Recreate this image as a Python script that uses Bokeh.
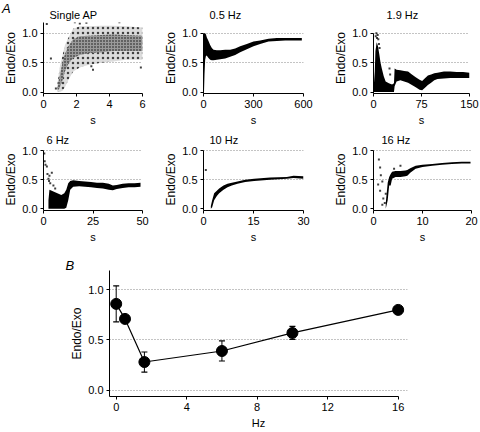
from bokeh.plotting import figure
from bokeh.models import Range1d, FixedTicker, PrintfTickFormatter, Title, Div
from bokeh.layouts import row, column
from bokeh.embed import file_html
from bokeh.resources import INLINE

FONT = "Liberation Sans"

# ---------------- data ----------------
# Single AP: scatter cloud described by an outer and a dense core envelope
ap_t = [0.85, 1.0, 1.15, 1.3, 1.5, 1.8, 2.2, 2.7, 3.5, 4.2, 5.0, 6.0]
ap_outer_lo = [0.0, 0.0, 0.02, 0.08, 0.2, 0.35, 0.42, 0.46, 0.5, 0.52, 0.55, 0.55]
ap_outer_hi = [0.15, 0.45, 0.62, 0.8, 0.92, 1.08, 1.12, 1.12, 1.13, 1.13, 1.12, 1.1]
ap_core_lo = [0.02, 0.08, 0.2, 0.35, 0.48, 0.58, 0.63, 0.66, 0.68, 0.7, 0.7, 0.7]
ap_core_hi = [0.08, 0.3, 0.5, 0.65, 0.78, 0.9, 0.95, 0.96, 0.97, 0.98, 0.97, 0.96]
ap_pts_t = [0.2, 0.45, 0.75, 2.9, 3.0, 1.9, 2.2, 2.6, 4.6, 5.9]
ap_pts_v = [1.16, 0.57, 0.06, 0.44, 0.38, 1.19, 1.17, 1.18, 1.19, 0.42]

# 0.5 Hz
hz05_t = [0, 3, 6, 10, 15, 20, 30, 40, 50, 60, 80, 100, 130, 160, 190, 220, 260, 300, 340, 390, 440, 490, 540, 590]
hz05_lo = [0, 0, 0.3, 0.55, 0.62, 0.62, 0.58, 0.55, 0.54, 0.54, 0.55, 0.56, 0.57, 0.6, 0.63, 0.68, 0.73, 0.78, 0.82, 0.86, 0.87, 0.88, 0.88, 0.88]
hz05_hi = [0.5, 1.0, 1.0, 1.0, 0.98, 0.93, 0.87, 0.8, 0.75, 0.72, 0.71, 0.71, 0.72, 0.72, 0.74, 0.78, 0.82, 0.86, 0.88, 0.91, 0.92, 0.92, 0.92, 0.92]

# 1.9 Hz
hz19_t = [0, 2, 3, 5, 7, 9, 11, 13, 16, 19, 24, 29, 32, 33, 36, 42, 48, 54, 60, 66, 72, 76, 80, 85, 90, 95, 100, 110, 120, 130, 140, 150]
hz19_lo = [0, 0, 0, 0, 0, 0, 0, 0, 0, 0, 0, 0, 0, 0.1, 0.18, 0.2, 0.18, 0.16, 0.12, 0.08, 0.04, 0.03, 0.07, 0.12, 0.16, 0.2, 0.22, 0.23, 0.24, 0.24, 0.24, 0.24]
hz19_hi = [0.03, 0.35, 0.7, 0.85, 0.78, 0.65, 0.5, 0.4, 0.27, 0.18, 0.15, 0.13, 0.15, 0.4, 0.38, 0.37, 0.36, 0.35, 0.3, 0.25, 0.21, 0.19, 0.23, 0.28, 0.3, 0.32, 0.33, 0.35, 0.35, 0.34, 0.34, 0.33]
hz19_pts_t = [3.5, 4.5, 5.5, 6.5, 7.5, 8.5, 9.5, 25, 26]
hz19_pts_v = [0.95, 1.0, 0.92, 0.97, 0.9, 0.82, 0.75, 0.4, 0.3]

# 6 Hz
hz6_t = [2.5, 3, 5, 7, 9, 10.5, 11.5, 12.5, 13.5, 15, 18, 21, 24, 27, 30, 33, 35, 37, 40, 43, 46, 49]
hz6_lo = [0, 0, 0, 0, 0, 0, 0.02, 0.15, 0.33, 0.38, 0.39, 0.38, 0.37, 0.36, 0.35, 0.33, 0.32, 0.34, 0.36, 0.37, 0.37, 0.38]
hz6_hi = [0.15, 0.33, 0.3, 0.27, 0.24, 0.27, 0.33, 0.44, 0.48, 0.49, 0.48, 0.47, 0.46, 0.45, 0.45, 0.43, 0.4, 0.41, 0.43, 0.44, 0.44, 0.45]
hz6_pts_t = [0.4, 0.6, 1.0, 1.7, 2.0, 2.5, 2.8, 3.0, 3.4, 4.2, 5.0, 5.9]
hz6_pts_v = [0.95, 0.82, 0.76, 0.73, 0.6, 0.52, 0.48, 0.57, 0.44, 0.62, 0.4, 0.35]

# 10 Hz
hz10_t = [2.2, 2.6, 3.2, 4, 4.7, 6, 7.2, 8.5, 10.2, 12.5, 15.2, 20, 25, 27, 30]
hz10_lo = [0, 0.03, 0.15, 0.22, 0.27, 0.33, 0.37, 0.4, 0.43, 0.46, 0.48, 0.5, 0.52, 0.53, 0.52]
hz10_hi = [0.05, 0.15, 0.27, 0.31, 0.35, 0.4, 0.43, 0.45, 0.47, 0.5, 0.52, 0.54, 0.55, 0.57, 0.56]
hz10_pts_t = [0.7]
hz10_pts_v = [0.67]

# 16 Hz
hz16_t = [2.5, 2.9, 3.2, 3.5, 3.8, 4.5, 5.5, 6.5, 6.9, 7.5, 8.6, 10, 12, 14, 16, 18, 19.8]
hz16_lo = [0, 0.15, 0.4, 0.4, 0.52, 0.55, 0.55, 0.56, 0.57, 0.62, 0.69, 0.72, 0.74, 0.76, 0.77, 0.78, 0.78]
hz16_hi = [0.1, 0.45, 0.55, 0.6, 0.64, 0.65, 0.65, 0.66, 0.67, 0.7, 0.74, 0.76, 0.77, 0.79, 0.8, 0.81, 0.81]
hz16_pts_t = [0.95, 1.1, 1.35, 1.35, 1.5, 1.8, 1.8, 2.0, 2.3, 2.5, 4.2, 5.5]
hz16_pts_v = [0.42, 0.85, 0.71, 0.31, 0.58, 0.47, 0.07, 0.18, 0.1, 0.26, 0.69, 0.74]

# B: summary
freq_hz = [0, 0.5, 1.6, 6, 10, 16]
ratio_mean = [0.86, 0.71, 0.28, 0.39, 0.57, 0.80]
ratio_sem = [0.18, 0.03, 0.10, 0.10, 0.065, 0.02]

y_ticks = [0.0, 0.5, 1.0]
b_x_ticks = [0, 4, 8, 12, 16]


# ---------------- styling helpers ----------------
def style_axes(p, xticks, xlabel):
    xa, ya = p.xaxis[0], p.yaxis[0]
    for ax in (xa, ya):
        ax.axis_line_color = "black"
        ax.axis_line_width = 1
        ax.major_tick_line_color = "black"
        ax.major_tick_in = 0
        ax.major_tick_out = 3
        ax.minor_tick_line_color = None
        ax.major_label_text_font = FONT
        ax.major_label_text_font_size = "11px"
        ax.major_label_text_color = "black"
        ax.axis_label_text_font = FONT
        ax.axis_label_text_font_style = "normal"
        ax.axis_label_text_color = "black"
    xa.ticker = FixedTicker(ticks=xticks)
    xa.formatter = PrintfTickFormatter(format="%d")
    xa.major_label_standoff = 3
    xa.axis_label_standoff = 3
    xa.axis_label_text_font_size = "11px"
    xa.axis_label = xlabel
    ya.ticker = FixedTicker(ticks=y_ticks)
    ya.formatter = PrintfTickFormatter(format="%.1f")
    ya.major_label_standoff = 3
    ya.axis_label_standoff = 1
    ya.axis_label_text_font_size = "12px"
    ya.axis_label = "Endo/Exo"
    p.xgrid.visible = False
    p.outline_line_color = None
    p.background_fill_color = "white"
    p.border_fill_color = "white"


def dotted_grid(p, ticks, bounds="auto"):
    p.ygrid.ticker = FixedTicker(ticks=ticks)
    p.ygrid.grid_line_color = "#888888"
    p.ygrid.grid_line_dash = "1 2"
    p.ygrid.grid_line_width = 1
    p.ygrid.bounds = bounds


def small_panel(left, fw, right, top, fh, bottom, xr, yr, xticks, ytop,
                title, title_dx, title_standoff):
    p = figure(width=left + fw + right, height=top + fh + bottom,
               x_range=Range1d(*xr), y_range=Range1d(*yr),
               output_backend="svg", toolbar_location=None,
               min_border_left=left, min_border_right=right,
               min_border_top=top, min_border_bottom=bottom)
    p.title = Title(text=title, align="left", offset=title_dx,
                    standoff=title_standoff, text_font=FONT,
                    text_font_size="11px", text_font_style="normal",
                    text_color="black")
    style_axes(p, xticks, "s")
    p.yaxis[0].bounds = (yr[0], ytop)
    dotted_grid(p, [0.5, 1.0])
    return p


def band(p, t, lo, hi, color="black", **kw):
    p.varea(x=t, y1=lo, y2=hi, fill_color=color, **kw)


def dots(p, t, v):
    p.scatter(x=t, y=v, marker="square", size=2, fill_color="black",
              line_color=None, fill_alpha=0.75)


# row geometry (pixels)
R1_TOP, R1_FH, R1_BOT = 22, 72, 34
R2_TOP, R2_FH, R2_BOT = 18, 65, 34
Y1 = (-0.025, 1.185)
Y2 = (-0.028, 1.038)

a1 = small_panel(43, 99, 18, R1_TOP, R1_FH, R1_BOT, (0, 6), Y1, [0, 2, 4, 6], Y1[1],
                 "Single AP", 6, 4)
band(a1, ap_t, ap_outer_lo, ap_outer_hi, "#dcdcdc",
     hatch_pattern="dot", hatch_color="black", hatch_scale=5, hatch_alpha=0.7)
band(a1, ap_t, ap_core_lo, ap_core_hi, "#9a9a9a",
     hatch_pattern="dot", hatch_color="black", hatch_scale=3, hatch_alpha=0.9)
dots(a1, ap_pts_t, ap_pts_v)

a2 = small_panel(43, 100, 20, R1_TOP, R1_FH, R1_BOT, (0, 600), Y1, [0, 300, 600], 1.0,
                 "0.5 Hz", 6, 4)
band(a2, hz05_t, hz05_lo, hz05_hi)

a3 = small_panel(50, 96, 11, R1_TOP, R1_FH, R1_BOT, (0, 150), Y1, [0, 75, 150], 1.0,
                 "1.9 Hz", 13, 4)
band(a3, hz19_t, hz19_lo, hz19_hi)
dots(a3, hz19_pts_t, hz19_pts_v)

a4 = small_panel(43, 99, 18, R2_TOP, R2_FH, R2_BOT, (0, 50), Y2, [0, 25, 50], 1.0,
                 "6 Hz", 3, 6)
band(a4, hz6_t, hz6_lo, hz6_hi)
dots(a4, hz6_pts_t, hz6_pts_v)

a5 = small_panel(43, 100, 20, R2_TOP, R2_FH, R2_BOT, (0, 30), Y2, [0, 15, 30], 1.0,
                 "10 Hz", 6, 6)
band(a5, hz10_t, hz10_lo, hz10_hi)
dots(a5, hz10_pts_t, hz10_pts_v)

a6 = small_panel(50, 98, 9, R2_TOP, R2_FH, R2_BOT, (0, 20), Y2, [0, 10, 20], 1.0,
                 "16 Hz", 8, 6)
band(a6, hz16_t, hz16_lo, hz16_hi)
dots(a6, hz16_pts_t, hz16_pts_v)

# ---------------- panel B ----------------
B_LEFT, B_FW, B_RIGHT = 109, 298, 14
B_TOP, B_FH, B_BOT = 25, 126, 36
pb = figure(width=B_LEFT + B_FW + B_RIGHT, height=B_TOP + B_FH + B_BOT,
            x_range=Range1d(-0.38, 16.53), y_range=Range1d(-0.064, 1.193),
            output_backend="svg", toolbar_location=None,
            min_border_left=B_LEFT, min_border_right=B_RIGHT,
            min_border_top=B_TOP, min_border_bottom=B_BOT)
pb.title = Title(text="B", align="left", offset=-44, standoff=-4, text_font=FONT,
                 text_font_size="13px", text_font_style="italic", text_color="black")
style_axes(pb, b_x_ticks, "Hz")
pb.xaxis[0].bounds = (-0.38, 16)
dotted_grid(pb, y_ticks, (-0.38, 16))

err_lo = [m - s for m, s in zip(ratio_mean, ratio_sem)]
err_hi = [m + s for m, s in zip(ratio_mean, ratio_sem)]
pb.segment(x0=freq_hz, y0=err_lo, x1=freq_hz, y1=err_hi, line_color="black", line_width=1)
pb.scatter(x=freq_hz, y=err_lo, marker="dash", size=6, line_color="black", line_width=1.2)
pb.scatter(x=freq_hz, y=err_hi, marker="dash", size=6, line_color="black", line_width=1.2)
pb.line(x=freq_hz, y=ratio_mean, line_color="black", line_width=1.2)
pb.scatter(x=freq_hz, y=ratio_mean, marker="circle", size=11, fill_color="black",
           line_color="black")

# panel letter "A" (HTML text laid over the top-left corner)
label_a = Div(text="<i>A</i>", width=12, height=16,
              styles={"position": "absolute", "left": "-3px", "top": "-4px",
                      "z-index": "10", "font-family": FONT, "font-size": "13px",
                      "line-height": "16px", "color": "black"})

layout = column(row(a1, a2, a3), row(a4, a5, a6), pb, label_a)

open("out.html", "w").write(file_html(layout, INLINE))
